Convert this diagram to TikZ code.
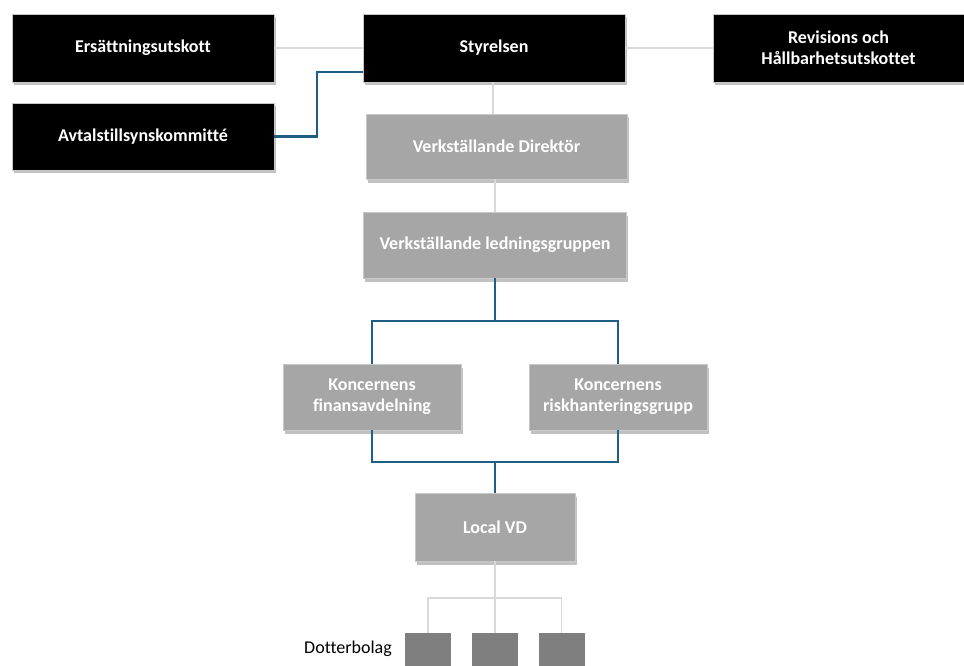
\documentclass[tikz,border=0pt]{standalone}
\usepackage{fontspec}
\setmainfont[Ligatures=NoCommon]{Carlito}
\usetikzlibrary{shadows}
\definecolor{boxgray}{RGB}{166,166,166}
\definecolor{subgray}{RGB}{127,127,127}
\definecolor{linegray}{RGB}{217,217,217}
\definecolor{bordergray}{RGB}{200,200,200}
\definecolor{blueline}{RGB}{31,94,133}
\begin{document}
\begin{tikzpicture}[x=1pt,y=-1pt,
  base/.style={draw=bordergray, line width=0.8pt, text=white, align=center,
    inner sep=0pt, font=\fontsize{18}{21}\selectfont\bfseries,
    drop shadow={shadow xshift=1.5pt, shadow yshift=-3.5pt, opacity=0.35, fill=black!70}},
  blackbox/.style={base, fill=black},
  graybox/.style={base, fill=boxgray},
  subbox/.style={draw=none, fill=subgray, minimum width=46pt, minimum height=46pt, inner sep=0pt},
  grayline/.style={draw=linegray, line width=1.6pt},
  blueconn/.style={draw=blueline, line width=2.2pt}]
\useasboundingbox (0,0) rectangle (964,666);

\node[blackbox, minimum width=262pt, minimum height=68pt] (ers) at (143,48) {Ersättningsutskott};
\node[blackbox, minimum width=262pt, minimum height=67pt] (avt) at (143,136.5) {Avtalstillsynskommitté};
\node[blackbox, minimum width=262pt, minimum height=68pt] (sty) at (494,48) {Styrelsen};
\node[blackbox, minimum width=251pt, minimum height=68pt] (rev) at (838.5,48) {Revisions och\\Hållbarhetsutskottet};
\node[graybox, minimum width=261pt, minimum height=65pt] (vd) at (496.5,146.5) {Verkställande Direktör};
\node[graybox, minimum width=263pt, minimum height=66pt] (led) at (495,245) {Verkställande ledningsgruppen};
\node[graybox, minimum width=178pt, minimum height=66pt] (fin) at (372,397) {Koncernens\\finansavdelning};
\node[graybox, minimum width=178pt, minimum height=66pt] (risk) at (618,397) {Koncernens\\riskhanteringsgrupp};
\node[graybox, minimum width=160pt, minimum height=68pt] (lvd) at (495,527) {Local VD};

\node[subbox, anchor=north] (d1) at (428,633) {};
\node[subbox, anchor=north] (d2) at (495,633) {};
\node[subbox, anchor=north] (d3) at (561.5,633) {};
\node[anchor=east, inner sep=0pt, font=\fontsize{18}{21}\selectfont] (dot) at (392,649) {Dotterbolag};

% gray connectors
\draw[grayline] (ers.east) -- (sty.west);
\draw[grayline] (sty.east) -- (rev.west);
\draw[grayline] ([xshift=-1pt]sty.south) -- ([xshift=-1pt]sty.south |- vd.north);
\draw[grayline] ([xshift=-1.5pt]vd.south) -- ([xshift=-1.5pt]vd.south |- led.north);

% blue connectors
\coordinate (b1) at (317,72);
\draw[blueconn] (sty.west |- b1) -- (b1) -- (b1 |- avt.east) -- (avt.east);
\coordinate (j1) at (495,321);
\draw[blueconn] (led.south) -- (led.south |- j1);
\draw[blueconn] (fin.north) -- (fin.north |- j1) -- (risk.north |- j1) -- (risk.north);
\coordinate (j2) at (495,462);
\draw[blueconn] (fin.south) -- (fin.south |- j2) -- (risk.south |- j2) -- (risk.south);
\draw[blueconn] (j2) -- (lvd.north);

% subsidiaries
\coordinate (j3) at (495,598);
\draw[grayline] (lvd.south) -- (j3);
\draw[grayline] (d1.north) -- (d1.north |- j3) -- (d3.north |- j3) -- (d3.north);
\draw[grayline] (j3) -- (d2.north);
\end{tikzpicture}
\end{document}
